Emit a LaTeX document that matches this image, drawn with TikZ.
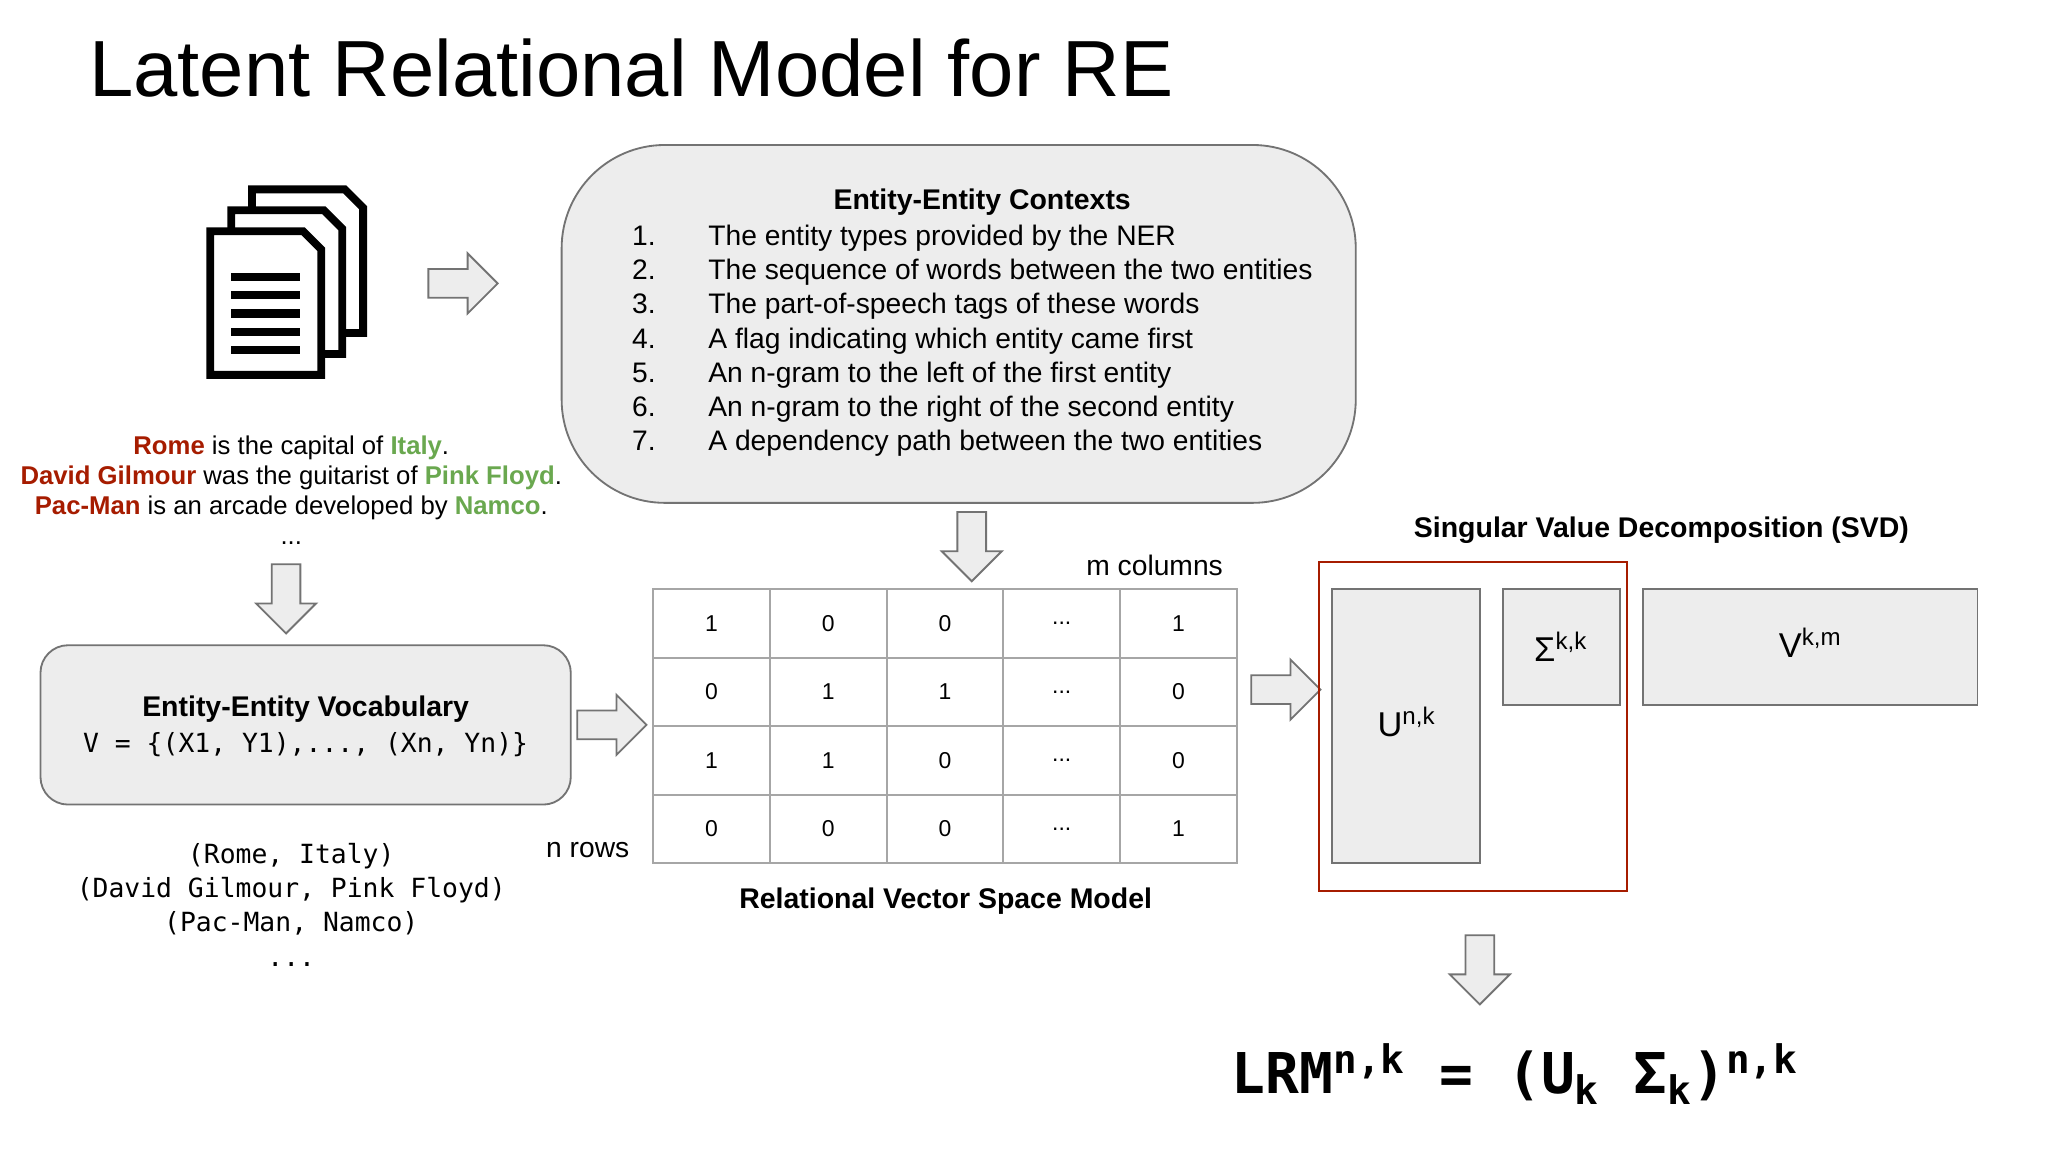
\documentclass[tikz,border=0pt]{standalone}
\usepackage{fontspec}
\setmainfont{Liberation Sans}
\newfontfamily\monof{DejaVu Sans Mono}
\begin{document}
\begin{tikzpicture}[x=0.02cm,y=-0.02cm,
  txt/.style={font=\fontsize{11.2}{13}\selectfont,inner sep=0},
  ltxt/.style={font=\fontsize{12.3}{14}\selectfont,inner sep=0},
  btxt/.style={font=\fontsize{12.4}{14}\selectfont\bfseries,inner sep=0},
  mono/.style={font=\fontsize{11.5}{15}\monof,inner sep=0,align=center},
  gbox/.style={draw=black!55,fill=black!7,line width=0.8pt},
  arr/.style={draw=black!55,fill=black!7,line width=0.8pt},
  cell/.style={draw=black!35,line width=0.8pt},
  page/.style={draw=black,fill=white,line width=3.4pt,line join=miter}]
\useasboundingbox (0,0) rectangle (1568,882);
\definecolor{rr}{HTML}{A61C00}\definecolor{gg}{HTML}{6AA84F}
\tikzset{
 rarr/.pic={\path[arr] (0,-11)--(30,-11)--(30,-23)--(53,0)--(30,23)--(30,11)--(0,11)--cycle;},
 darr/.pic={\path[arr] (-11,0)--(-11,30)--(-23,30)--(0,53)--(23,30)--(11,30)--(11,0)--cycle;}}
% title
\node[anchor=base west,inner sep=0,font=\fontsize{34.7}{40}\selectfont] (title) at (68,74) {Latent Relational Model for RE};
% document icon
\foreach \o in {32,16,0}{
 \draw[page] (161+\o,177-\o)--(232+\o,177-\o)--(246+\o,191-\o)--(246+\o,287-\o)--(161+\o,287-\o)--cycle;}
\foreach \yy in {212,226,240,254,268}{\draw[line width=3.6pt] (177,\yy)--(230,\yy);}
\pic at (328,217) {rarr};
% contexts box
\node[gbox,rounded corners=45pt,minimum width=608*0.02cm,minimum height=274*0.02cm] (ctx) at (734,248) {};
\node[btxt] (ctxt) at (752,155) {Entity-Entity Contexts};
\foreach \n/\t [count=\i from 0] in {1/The entity types provided by the NER,2/The sequence of words between the two entities,3/The part-of-speech tags of these words,4/A flag indicating which entity came first,5/An n-gram to the left of the first entity,6/An n-gram to the right of the second entity,7/A dependency path between the two entities}{
 \node[ltxt,anchor=base] (num\n) at (493,188+26.2*\i) {\n.};
 \node[ltxt,anchor=base west] (it\n) at (542,188+26.2*\i) {\t};}
% sentences
\node[txt,anchor=base] (s1) at (223,348) {\textcolor{rr}{\bfseries Rome} is the capital of \textcolor{gg}{\bfseries Italy}.};
\node[txt,anchor=base] (s2) at (223,371) {\textcolor{rr}{\bfseries David Gilmour} was the guitarist of \textcolor{gg}{\bfseries Pink Floyd}.};
\node[txt,anchor=base] (s3) at (223,394) {\textcolor{rr}{\bfseries Pac-Man} is an arcade developed by \textcolor{gg}{\bfseries Namco}.};
\node[txt,anchor=base] (s4) at (223,417) {...};
\pic at (219,432) {darr};
% vocabulary
\node[gbox,rounded corners=12pt,minimum width=406*0.02cm,minimum height=122*0.02cm] (voc) at (234,555) {};
\node[btxt] (voct) at (234,543) {Entity-Entity Vocabulary};
\node[mono] (vocf) at (234,570) {V = \{(X1, Y1),..., (Xn, Yn)\}};
\pic at (442,555) {rarr};
\node[mono,anchor=north] (tup) at (223,645) {(Rome, Italy)\\(David Gilmour, Pink Floyd)\\(Pac-Man, Namco)\\...};
\node[ltxt] (nrows) at (450,651) {n rows};
% matrix
\pic at (744,392) {darr};
\node[ltxt] (mcol) at (884,433) {m columns};
\foreach \r [count=\i from 0] in {{1,0,0,d,1},{0,1,1,d,0},{1,1,0,d,0},{0,0,0,d,1}}{
 \foreach \v [count=\j from 0] in \r {
  \node[cell,minimum width=89.4*0.02cm,minimum height=52.5*0.02cm,font=\fontsize{10}{12}\selectfont] (c\i\j) at (544.7+89.4*\j,477.25+52.5*\i) {\if d\v ...\else\v\fi};}}
\node[btxt] (rvsm) at (724,690) {Relational Vector Space Model};
\pic at (958,528) {rarr};
% SVD
\node[btxt] (svdt) at (1272,406) {Singular Value Decomposition (SVD)};
\draw[draw=rr,line width=0.9pt] (1010,430) rectangle (1246,682);
\node[gbox,minimum width=113*0.02cm,minimum height=210*0.02cm] (U) at (1076.5,556) {};
\node[font=\fontsize{15}{17}\selectfont,inner sep=0] (Ul) at (1077,553) {U\textsuperscript{n,k}};
\node[gbox,minimum width=89*0.02cm,minimum height=89*0.02cm] (S) at (1195.5,495.5) {};
\node[font=\fontsize{15}{17}\selectfont,inner sep=0] (Sl) at (1195,495) {Σ\textsuperscript{k,k}};
\node[gbox,minimum width=256*0.02cm,minimum height=89*0.02cm] (V) at (1386,495.5) {};
\node[font=\fontsize{15}{17}\selectfont,inner sep=0] (Vl) at (1386,492) {V\textsuperscript{k,m}};
\pic at (1133,716) {darr};
\node[font=\fontsize{24.5}{28}\monof\bfseries,inner sep=0] (lrm) at (1160,822) {LRM\textsuperscript{n,k} = (U\textsubscript{k} Σ\textsubscript{k})\textsuperscript{n,k}};
\end{tikzpicture}
\end{document}
